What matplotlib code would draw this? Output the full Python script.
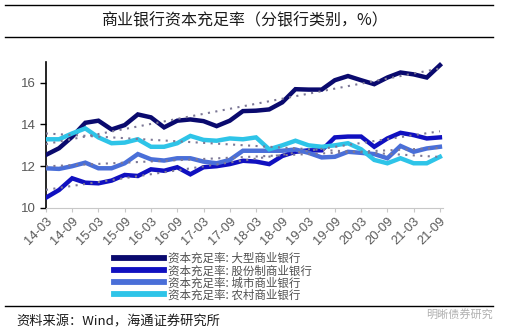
import numpy as np
import matplotlib
matplotlib.use("Agg")
import matplotlib.pyplot as plt
from matplotlib.lines import Line2D

plt.rcParams['font.family'] = ['Noto Sans CJK SC', 'DejaVu Sans']

# ── quarterly data, 2014-03 .. 2021-09 ─────────────────────────
quarters = [f"{y:02d}-{m}" for y in range(14, 22) for m in ("03", "06", "09", "12")][:31]

large = [12.54, 12.86, 13.41, 14.08, 14.18, 13.76, 13.97, 14.48, 14.34, 13.86,
         14.18, 14.24, 14.16, 13.92, 14.18, 14.64, 14.66, 14.72, 15.06, 15.69,
         15.67, 15.67, 16.12, 16.32, 16.12, 15.93, 16.25, 16.49, 16.40, 16.25, 16.84]
joint = [10.49, 10.86, 11.42, 11.21, 11.18, 11.31, 11.58, 11.53, 11.85, 11.78,
         11.95, 11.61, 11.95, 12.00, 12.10, 12.26, 12.22, 12.10, 12.49, 12.69,
         12.76, 12.76, 13.38, 13.42, 13.42, 12.93, 13.33, 13.60, 13.49, 13.33, 13.38]
city = [11.90, 11.87, 12.00, 12.17, 11.90, 11.90, 12.14, 12.58, 12.33, 12.27,
        12.38, 12.38, 12.22, 12.14, 12.30, 12.74, 12.74, 12.74, 12.74, 12.80,
        12.64, 12.42, 12.45, 12.69, 12.64, 12.58, 12.38, 12.97, 12.69, 12.85, 12.93]
rural = [13.29, 13.29, 13.57, 13.81, 13.38, 13.10, 13.13, 13.29, 12.93, 12.93,
         13.10, 13.45, 13.26, 13.22, 13.33, 13.29, 13.38, 12.81, 13.00, 13.22,
         13.00, 12.93, 13.00, 13.10, 12.81, 12.30, 12.14, 12.38, 12.14, 12.14, 12.45]

labels = ["资本充足率: 大型商业银行", "资本充足率: 股份制商业银行",
          "资本充足率: 城市商业银行", "资本充足率: 农村商业银行"]
colors = ["#0a0a6e", "#1010c0", "#4a6fd8", "#2ec4e8"]
series = [large, joint, city, rural]

fig = plt.figure(figsize=(5.1, 3.29), dpi=100, facecolor="white")
ax = fig.add_axes([0.090, 0.368, 0.779, 0.444])

x = np.arange(len(quarters))
for vals, col, lab in zip(series, colors, labels):
    ax.plot(x, vals, color=col, lw=3.2, solid_joinstyle="miter", label=lab, zorder=3)
# linear trend for each series
for vals in series:
    k, b = np.polyfit(x, vals, 1)
    ax.plot(x, k * x + b, color="#7c7896", lw=1.5, ls=(0, (1, 2.6)), zorder=4)

ax.set_xlim(0, 30.25)
ax.set_ylim(10, 17)
ax.set_yticks([10, 12, 14, 16])
ax.set_xticks(x[::2])
ax.set_xticklabels(quarters[::2], rotation=45, ha="right", rotation_mode="anchor",
                   family="Liberation Sans", fontsize=9.3, color="#595959")
for t in ax.get_yticklabels():
    t.set_family("Liberation Sans")
ax.tick_params(axis="y", labelsize=9.5, labelcolor="#595959", color="black",
               length=4, width=1)
ax.tick_params(axis="x", color="#c8c8c8", length=3, width=0.8, pad=2)
ax.spines["top"].set_visible(False)
ax.spines["right"].set_visible(False)
ax.spines["left"].set_color("black")
ax.spines["left"].set_linewidth(1.2)
ax.spines["bottom"].set_color("#c8c8c8")

handles = [Line2D([0], [0], color=c, lw=4.2) for c in colors]
fig.legend(handles, labels, loc="upper left", bbox_to_anchor=(0.213, 0.251),
           frameon=False, fontsize=8.3, handlelength=4.3, handletextpad=0.35,
           labelspacing=-0.08, labelcolor="#505050", borderpad=0)

# header / footer rules
for yy in (0.986, 0.887, 0.070):
    fig.add_artist(Line2D([0.01, 0.967], [yy, yy], color="black", lw=1.0))

fig.text(0.48, 0.936, "商业银行资本充足率（分银行类别，%）", ha="center", va="center",
         fontsize=11.5, color="#1a1a1a", fontweight="medium")
fig.text(0.033, 0.021, "资料来源：Wind，海通证券研究所", ha="left", va="center",
         fontsize=9.5, color="#1a1a1a")
fig.text(0.966, 0.045, "明晰债券研究", ha="right", va="center",
         fontsize=8, color="#b0b0b0")

fig.savefig("out.png", dpi=100, facecolor="white")
